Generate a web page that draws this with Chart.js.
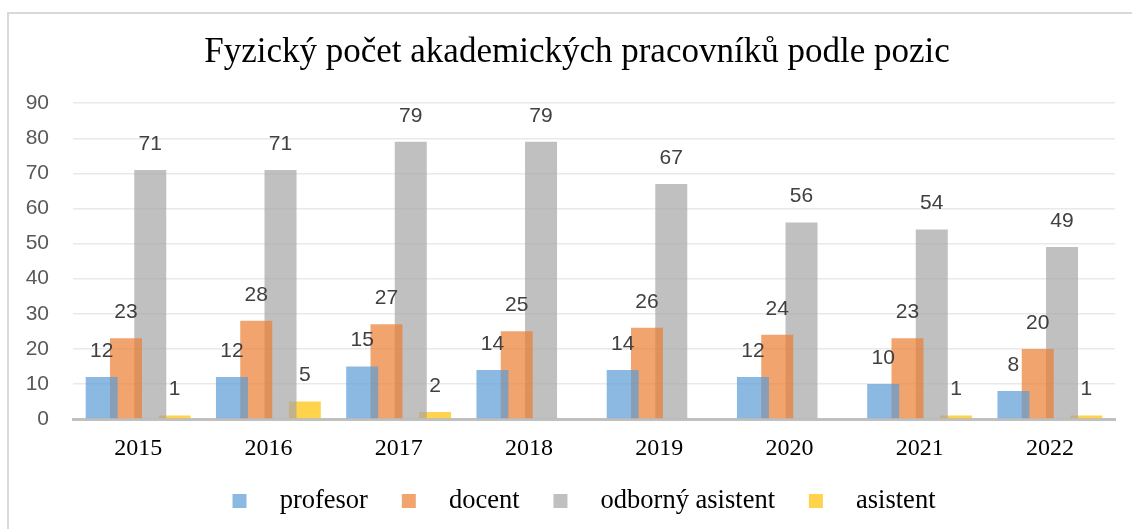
<!DOCTYPE html>
<html><head><meta charset="utf-8">
<script src="https://cdn.jsdelivr.net/npm/chart.js@4.4.0/dist/chart.umd.min.js"></script>
<style>
html,body{margin:0;padding:0;overflow:hidden;background:#fff;width:1132px;height:529px}
#frame{position:absolute;left:7px;top:12px;width:1200px;height:600px;border-left:2px solid #d9d9d9;border-top:2px solid #d9d9d9;box-sizing:border-box}
#wrap{position:absolute;left:7px;top:0;width:1140px;height:529px}
</style></head><body>
<div id="frame"></div>
<div id="wrap"><canvas id="c" width="1140" height="529"></canvas></div>
<script>
const categories = ['2015','2016','2017','2018','2019','2020','2021','2022'];
const profesor = [12,12,15,14,14,12,10,8];
const docent = [23,28,27,25,26,24,23,20];
const odbornyAsistent = [71,71,79,79,67,56,54,49];
const asistent = [1,5,2,null,null,null,1,1];
const seriesNames = ['profesor','docent','odborný asistent','asistent'];
const seriesColors = ['rgba(91,155,213,0.7)','rgba(237,125,49,0.7)','rgba(165,165,165,0.7)','rgba(255,192,0,0.7)'];
const chartTitle = 'Fyzický počet akademických pracovníků podle pozic';

const valueLabels = {
  id:'valueLabels',
  afterDatasetsDraw(chart){
    const ctx = chart.ctx;
    ctx.save();
    ctx.font = '21px "Liberation Sans"';
    ctx.fillStyle = '#404040';
    ctx.textAlign = 'center';
    ctx.textBaseline = 'middle';
    chart.data.datasets.forEach((ds,i)=>{
      const meta = chart.getDatasetMeta(i);
      meta.data.forEach((el,j)=>{
        const v = ds.data[j];
        if (v == null) return;
        ctx.fillText(String(v), el.x, el.y - 26);
      });
    });
    ctx.restore();
  }
};

const legendShift = {
  id:'legendShift',
  afterLayout(chart){
    if (chart.legend) { chart.legend.left += 7; chart.legend.right += 7; }
  }
};

const allSeries = [profesor, docent, odbornyAsistent, asistent];
new Chart(document.getElementById('c'), {
  type:'bar',
  data:{
    labels: categories,
    datasets: allSeries.map((d,i)=>({
      label: seriesNames[i],
      data: d,
      backgroundColor: seriesColors[i],
      borderWidth: 0,
      categoryPercentage: 0.746,
      barPercentage: 1.317
    }))
  },
  options:{
    responsive:false,
    animation:false,
    devicePixelRatio:1,
    layout:{padding:{left:0,right:0,top:0,bottom:4.75}},
    plugins:{
      title:{display:true,text:chartTitle,color:'#000',
        font:{family:'Liberation Serif',size:35,weight:'normal',lineHeight:1.2},
        padding:{top:32,bottom:29.2}},
      legend:{position:'bottom',
        labels:{font:{family:'Liberation Serif',size:26.5},color:'#000',boxWidth:14,boxHeight:14,padding:14,
          generateLabels(chart){
            const items = Chart.defaults.plugins.legend.labels.generateLabels(chart);
            items.forEach((it,k)=>{
              it.text = '   ' + it.text + (k < items.length - 1 ? '   ' : '');
              it.lineWidth = 0; it.strokeStyle = 'rgba(0,0,0,0)';
            });
            return items;
          }}},
      tooltip:{enabled:false}
    },
    scales:{
      x:{
        z:1,
        grid:{display:false,drawTicks:false},
        border:{display:true,color:'#c0c0c0',width:3},
        ticks:{font:{family:'Liberation Serif',size:24},color:'#000',padding:15.5,maxRotation:0},
        afterFit(s){s.height=54.65;}
      },
      y:{
        min:0,max:90,
        ticks:{stepSize:10,font:{family:'Liberation Sans',size:21},color:'#595959',padding:24},
        grid:{color:'#e9e9e9',lineWidth:1.5,drawTicks:false},
        border:{display:false},
        afterFit(s){s.width=66;}
      },
      yRight:{
        position:'right',
        display:true,
        grid:{display:false,drawTicks:false},
        ticks:{display:false},
        border:{display:false},
        afterFit(s){s.width=32;}
      }
    }
  },
  plugins:[valueLabels, legendShift]
});
</script>
</body></html>
